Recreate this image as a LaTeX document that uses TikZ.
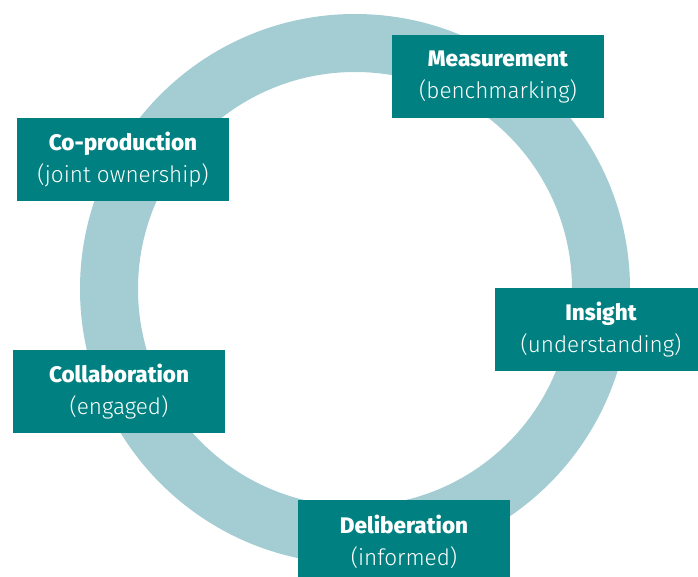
\documentclass[tikz,border=0pt]{standalone}
\usepackage{fontspec}
\setmainfont{Fira Sans}
\newfontfamily\stagetitlefont{Fira Sans}[UprightFont=* ExtraBold]
\newfontfamily\stagesubfont{Fira Sans}[UprightFont=* Light]
\definecolor{ringblue}{RGB}{163,205,210}
\definecolor{stageteal}{RGB}{0,128,128}
\tikzset{
  stagebox/.style={rectangle, fill=stageteal, text=white, inner sep=0pt,
    minimum width=212pt, minimum height=83pt, align=center,
    font=\fontsize{22.5pt}{32pt}\selectfont},
}
\newcommand{\stagetext}[2]{{\stagetitlefont #1}\\{\stagesubfont #2}}
\begin{document}
\begin{tikzpicture}[x=1pt,y=-1pt]
  \clip (0,0) rectangle (698,576);
  \fill[white] (0,0) rectangle (698,576);
  % the cycle ring
  \coordinate (hub) at (355,289);
  \draw[ringblue, line width=58pt] (hub) circle (246);
  % the five stages
  \node[stagebox] (measure) at (498,76.5) {\stagetext{Measurement}{(benchmarking)}};
  \node[stagebox] (coprod) at (123,159.5) {\stagetext{Co-production}{(joint ownership)}};
  \node[stagebox] (insight) at (601,329.5) {\stagetext{Insight}{(understanding)}};
  \node[stagebox] (collab) at (119,391.5) {\stagetext{Collaboration}{(engaged)}};
  \node[stagebox] (delib) at (404,541.5) {\stagetext{Deliberation}{(informed)}};
\end{tikzpicture}
\end{document}
